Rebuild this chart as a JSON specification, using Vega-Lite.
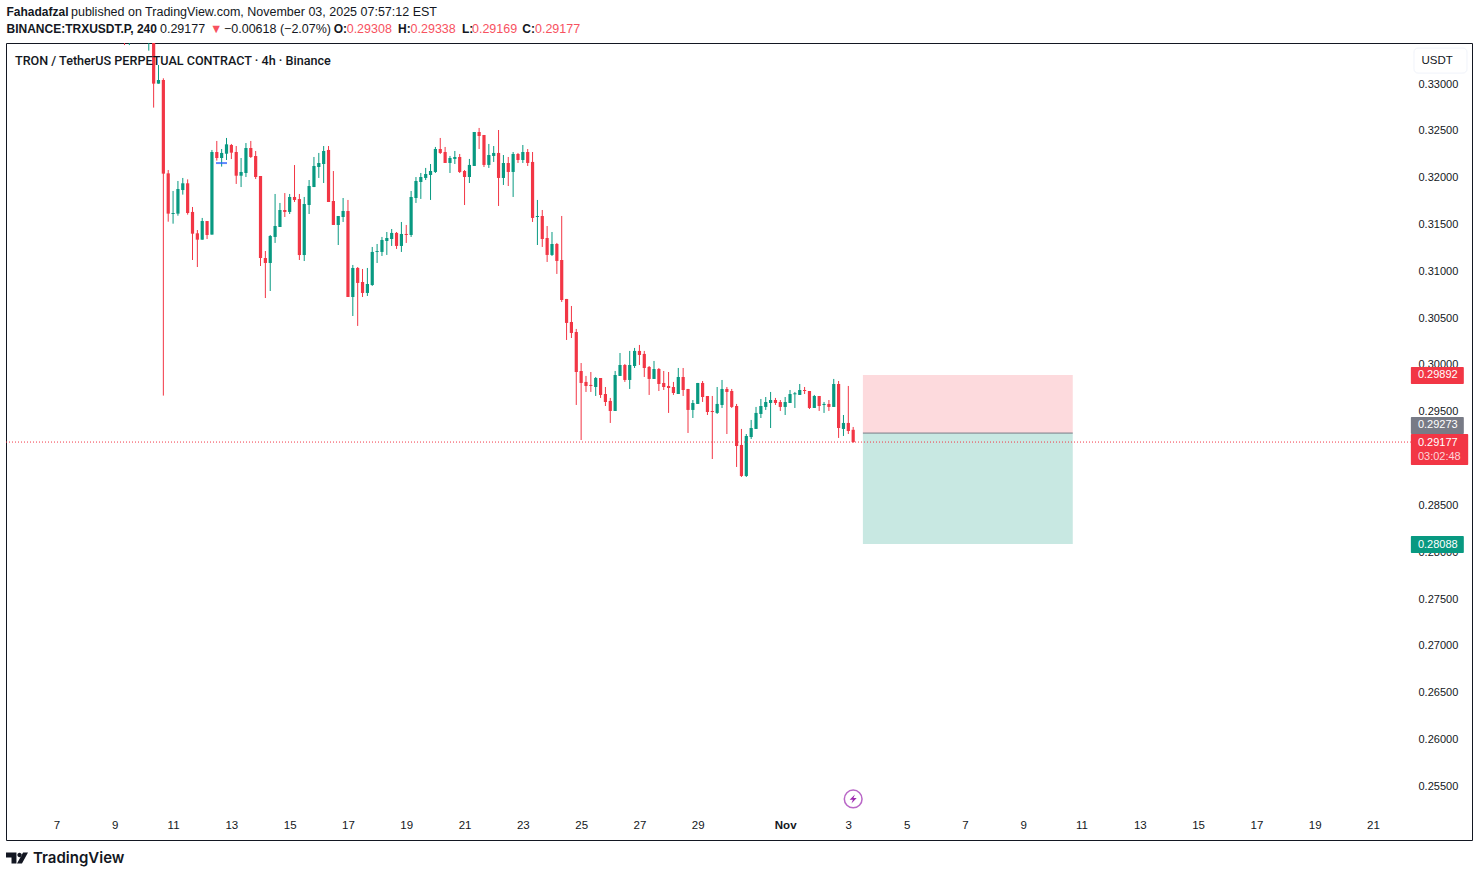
{
"$schema":"https://vega.github.io/schema/vega-lite/v6.json",
"width":1466,"height":797,"autosize":"none",
"padding":{"left":6,"top":43,"right":7,"bottom":37},
"background":"white",
"config":{"view":{"stroke":"#131722","strokeWidth":1},"font":"Liberation Sans"},
"datasets":{
"candles":[
{"t":"2025-10-09T08:00Z","o":0.33650,"h":0.33700,"l":0.33416,"c":0.33560},
{"t":"2025-10-09T12:00Z","o":0.33500,"h":0.33650,"l":0.33416,"c":0.33600},
{"t":"2025-10-10T04:00Z","o":0.33450,"h":0.33700,"l":0.33356,"c":0.33600},
{"t":"2025-10-10T08:00Z","o":0.33800,"h":0.33900,"l":0.32748,"c":0.33004},
{"t":"2025-10-10T12:00Z","o":0.33004,"h":0.33203,"l":0.33004,"c":0.33043},
{"t":"2025-10-10T16:00Z","o":0.33043,"h":0.33061,"l":0.29673,"c":0.32043},
{"t":"2025-10-10T20:00Z","o":0.32046,"h":0.32082,"l":0.31530,"c":0.31616},
{"t":"2025-10-11T00:00Z","o":0.31612,"h":0.31858,"l":0.31509,"c":0.31623},
{"t":"2025-10-11T04:00Z","o":0.31616,"h":0.31965,"l":0.31594,"c":0.31879},
{"t":"2025-10-11T08:00Z","o":0.31868,"h":0.31997,"l":0.31819,"c":0.31940},
{"t":"2025-10-11T12:00Z","o":0.31940,"h":0.31982,"l":0.31605,"c":0.31623},
{"t":"2025-10-11T16:00Z","o":0.31634,"h":0.31687,"l":0.31121,"c":0.31402},
{"t":"2025-10-11T20:00Z","o":0.31406,"h":0.31441,"l":0.31046,"c":0.31338},
{"t":"2025-10-12T00:00Z","o":0.31338,"h":0.31570,"l":0.31338,"c":0.31537},
{"t":"2025-10-12T04:00Z","o":0.31537,"h":0.31537,"l":0.31345,"c":0.31388},
{"t":"2025-10-12T08:00Z","o":0.31392,"h":0.32296,"l":0.31392,"c":0.32274},
{"t":"2025-10-12T12:00Z","o":0.32274,"h":0.32392,"l":0.32182,"c":0.32210},
{"t":"2025-10-12T16:00Z","o":0.32210,"h":0.32306,"l":0.32118,"c":0.32264},
{"t":"2025-10-12T20:00Z","o":0.32256,"h":0.32424,"l":0.32189,"c":0.32356},
{"t":"2025-10-13T00:00Z","o":0.32349,"h":0.32360,"l":0.32199,"c":0.32267},
{"t":"2025-10-13T04:00Z","o":0.32274,"h":0.32338,"l":0.31933,"c":0.32021},
{"t":"2025-10-13T08:00Z","o":0.32021,"h":0.32210,"l":0.31900,"c":0.32061},
{"t":"2025-10-13T12:00Z","o":0.32050,"h":0.32370,"l":0.32007,"c":0.32317},
{"t":"2025-10-13T16:00Z","o":0.32317,"h":0.32392,"l":0.32210,"c":0.32221},
{"t":"2025-10-13T20:00Z","o":0.32231,"h":0.32285,"l":0.31986,"c":0.32007},
{"t":"2025-10-14T00:00Z","o":0.32018,"h":0.32018,"l":0.31057,"c":0.31142},
{"t":"2025-10-14T04:00Z","o":0.31142,"h":0.31217,"l":0.30715,"c":0.31089},
{"t":"2025-10-14T08:00Z","o":0.31089,"h":0.31388,"l":0.30790,"c":0.31377},
{"t":"2025-10-14T12:00Z","o":0.31367,"h":0.31826,"l":0.31303,"c":0.31484},
{"t":"2025-10-14T16:00Z","o":0.31473,"h":0.31730,"l":0.31473,"c":0.31655},
{"t":"2025-10-14T20:00Z","o":0.31655,"h":0.31836,"l":0.31580,"c":0.31634},
{"t":"2025-10-15T00:00Z","o":0.31634,"h":0.31826,"l":0.31612,"c":0.31794},
{"t":"2025-10-15T04:00Z","o":0.31794,"h":0.32135,"l":0.31740,"c":0.31762},
{"t":"2025-10-15T08:00Z","o":0.31772,"h":0.31826,"l":0.31121,"c":0.31174},
{"t":"2025-10-15T12:00Z","o":0.31174,"h":0.31794,"l":0.31110,"c":0.31719},
{"t":"2025-10-15T16:00Z","o":0.31708,"h":0.31975,"l":0.31612,"c":0.31911},
{"t":"2025-10-15T20:00Z","o":0.31900,"h":0.32221,"l":0.31900,"c":0.32125},
{"t":"2025-10-16T00:00Z","o":0.32114,"h":0.32264,"l":0.31997,"c":0.32157},
{"t":"2025-10-16T04:00Z","o":0.32146,"h":0.32338,"l":0.31943,"c":0.32285},
{"t":"2025-10-16T08:00Z","o":0.32296,"h":0.32338,"l":0.31740,"c":0.31740},
{"t":"2025-10-16T12:00Z","o":0.31751,"h":0.32071,"l":0.31495,"c":0.31495},
{"t":"2025-10-16T16:00Z","o":0.31495,"h":0.31591,"l":0.31281,"c":0.31591},
{"t":"2025-10-16T20:00Z","o":0.31580,"h":0.31783,"l":0.31527,"c":0.31644},
{"t":"2025-10-17T00:00Z","o":0.31644,"h":0.31762,"l":0.30726,"c":0.30726},
{"t":"2025-10-17T04:00Z","o":0.30726,"h":0.31068,"l":0.30523,"c":0.31036},
{"t":"2025-10-17T08:00Z","o":0.31036,"h":0.31046,"l":0.30417,"c":0.30876},
{"t":"2025-10-17T12:00Z","o":0.30886,"h":0.31025,"l":0.30726,"c":0.30769},
{"t":"2025-10-17T16:00Z","o":0.30769,"h":0.31036,"l":0.30737,"c":0.30865},
{"t":"2025-10-17T20:00Z","o":0.30854,"h":0.31260,"l":0.30844,"c":0.31207},
{"t":"2025-10-18T00:00Z","o":0.31207,"h":0.31292,"l":0.31089,"c":0.31217},
{"t":"2025-10-18T04:00Z","o":0.31207,"h":0.31367,"l":0.31164,"c":0.31335},
{"t":"2025-10-18T08:00Z","o":0.31324,"h":0.31420,"l":0.31175,"c":0.31356},
{"t":"2025-10-18T12:00Z","o":0.31345,"h":0.31452,"l":0.31271,"c":0.31410},
{"t":"2025-10-18T16:00Z","o":0.31410,"h":0.31420,"l":0.31239,"c":0.31271},
{"t":"2025-10-18T20:00Z","o":0.31271,"h":0.31527,"l":0.31207,"c":0.31399},
{"t":"2025-10-19T00:00Z","o":0.31399,"h":0.31495,"l":0.31303,"c":0.31388},
{"t":"2025-10-19T04:00Z","o":0.31388,"h":0.31858,"l":0.31367,"c":0.31794},
{"t":"2025-10-19T08:00Z","o":0.31783,"h":0.32007,"l":0.31730,"c":0.31965},
{"t":"2025-10-19T12:00Z","o":0.31954,"h":0.32050,"l":0.31773,"c":0.32007},
{"t":"2025-10-19T16:00Z","o":0.31997,"h":0.32104,"l":0.31975,"c":0.32039},
{"t":"2025-10-19T20:00Z","o":0.32029,"h":0.32146,"l":0.31762,"c":0.32071},
{"t":"2025-10-20T00:00Z","o":0.32061,"h":0.32328,"l":0.32050,"c":0.32306},
{"t":"2025-10-20T04:00Z","o":0.32306,"h":0.32424,"l":0.32253,"c":0.32264},
{"t":"2025-10-20T08:00Z","o":0.32274,"h":0.32328,"l":0.32157,"c":0.32157},
{"t":"2025-10-20T12:00Z","o":0.32157,"h":0.32232,"l":0.32050,"c":0.32210},
{"t":"2025-10-20T16:00Z","o":0.32200,"h":0.32285,"l":0.32146,"c":0.32221},
{"t":"2025-10-20T20:00Z","o":0.32221,"h":0.32253,"l":0.32050,"c":0.32061},
{"t":"2025-10-21T00:00Z","o":0.32071,"h":0.32082,"l":0.31708,"c":0.32007},
{"t":"2025-10-21T04:00Z","o":0.32007,"h":0.32200,"l":0.31943,"c":0.32136},
{"t":"2025-10-21T08:00Z","o":0.32125,"h":0.32488,"l":0.32125,"c":0.32488},
{"t":"2025-10-21T12:00Z","o":0.32488,"h":0.32531,"l":0.32306,"c":0.32445},
{"t":"2025-10-21T16:00Z","o":0.32456,"h":0.32456,"l":0.32114,"c":0.32136},
{"t":"2025-10-21T20:00Z","o":0.32136,"h":0.32360,"l":0.32104,"c":0.32242},
{"t":"2025-10-22T00:00Z","o":0.32232,"h":0.32338,"l":0.32168,"c":0.32264},
{"t":"2025-10-22T04:00Z","o":0.32264,"h":0.32509,"l":0.31698,"c":0.31997},
{"t":"2025-10-22T08:00Z","o":0.31997,"h":0.32242,"l":0.31922,"c":0.32157},
{"t":"2025-10-22T12:00Z","o":0.32157,"h":0.32221,"l":0.31911,"c":0.32061},
{"t":"2025-10-22T16:00Z","o":0.32061,"h":0.32274,"l":0.31794,"c":0.32253},
{"t":"2025-10-22T20:00Z","o":0.32253,"h":0.32264,"l":0.32157,"c":0.32189},
{"t":"2025-10-23T00:00Z","o":0.32189,"h":0.32349,"l":0.32157,"c":0.32274},
{"t":"2025-10-23T04:00Z","o":0.32274,"h":0.32306,"l":0.32125,"c":0.32157},
{"t":"2025-10-23T08:00Z","o":0.32168,"h":0.32274,"l":0.31527,"c":0.31570},
{"t":"2025-10-23T12:00Z","o":0.31580,"h":0.31762,"l":0.31281,"c":0.31591},
{"t":"2025-10-23T16:00Z","o":0.31591,"h":0.31655,"l":0.31260,"c":0.31345},
{"t":"2025-10-23T20:00Z","o":0.31356,"h":0.31484,"l":0.31100,"c":0.31175},
{"t":"2025-10-24T00:00Z","o":0.31175,"h":0.31420,"l":0.31164,"c":0.31292},
{"t":"2025-10-24T04:00Z","o":0.31292,"h":0.31303,"l":0.30972,"c":0.31111},
{"t":"2025-10-24T08:00Z","o":0.31121,"h":0.31591,"l":0.30673,"c":0.30694},
{"t":"2025-10-24T12:00Z","o":0.30705,"h":0.30705,"l":0.30267,"c":0.30449},
{"t":"2025-10-24T16:00Z","o":0.30459,"h":0.30630,"l":0.30288,"c":0.30342},
{"t":"2025-10-24T20:00Z","o":0.30352,"h":0.30385,"l":0.29573,"c":0.29925},
{"t":"2025-10-25T00:00Z","o":0.29936,"h":0.30021,"l":0.29199,"c":0.29808},
{"t":"2025-10-25T04:00Z","o":0.29819,"h":0.29883,"l":0.29712,"c":0.29776},
{"t":"2025-10-25T08:00Z","o":0.29787,"h":0.29925,"l":0.29712,"c":0.29776},
{"t":"2025-10-25T12:00Z","o":0.29765,"h":0.29872,"l":0.29669,"c":0.29861},
{"t":"2025-10-25T16:00Z","o":0.29861,"h":0.29861,"l":0.29648,"c":0.29680},
{"t":"2025-10-25T20:00Z","o":0.29690,"h":0.29765,"l":0.29562,"c":0.29605},
{"t":"2025-10-26T00:00Z","o":0.29616,"h":0.29648,"l":0.29381,"c":0.29509},
{"t":"2025-10-26T04:00Z","o":0.29509,"h":0.29936,"l":0.29509,"c":0.29893},
{"t":"2025-10-26T08:00Z","o":0.29883,"h":0.30128,"l":0.29883,"c":0.30000},
{"t":"2025-10-26T12:00Z","o":0.30000,"h":0.30011,"l":0.29819,"c":0.29840},
{"t":"2025-10-26T16:00Z","o":0.29840,"h":0.30150,"l":0.29744,"c":0.30000},
{"t":"2025-10-26T20:00Z","o":0.29989,"h":0.30182,"l":0.29968,"c":0.30150},
{"t":"2025-10-27T00:00Z","o":0.30150,"h":0.30214,"l":0.30000,"c":0.30107},
{"t":"2025-10-27T04:00Z","o":0.30118,"h":0.30150,"l":0.29872,"c":0.29968},
{"t":"2025-10-27T08:00Z","o":0.29979,"h":0.29989,"l":0.29680,"c":0.29851},
{"t":"2025-10-27T12:00Z","o":0.29851,"h":0.30043,"l":0.29851,"c":0.29957},
{"t":"2025-10-27T16:00Z","o":0.29957,"h":0.29968,"l":0.29722,"c":0.29797},
{"t":"2025-10-27T20:00Z","o":0.29808,"h":0.29936,"l":0.29733,"c":0.29765},
{"t":"2025-10-28T00:00Z","o":0.29776,"h":0.29925,"l":0.29488,"c":0.29754},
{"t":"2025-10-28T04:00Z","o":0.29765,"h":0.29819,"l":0.29680,"c":0.29701},
{"t":"2025-10-28T08:00Z","o":0.29690,"h":0.29968,"l":0.29690,"c":0.29872},
{"t":"2025-10-28T12:00Z","o":0.29872,"h":0.29968,"l":0.29669,"c":0.29733},
{"t":"2025-10-28T16:00Z","o":0.29744,"h":0.29744,"l":0.29274,"c":0.29520},
{"t":"2025-10-28T20:00Z","o":0.29520,"h":0.29626,"l":0.29434,"c":0.29594},
{"t":"2025-10-29T00:00Z","o":0.29584,"h":0.29808,"l":0.29584,"c":0.29808},
{"t":"2025-10-29T04:00Z","o":0.29808,"h":0.29829,"l":0.29605,"c":0.29658},
{"t":"2025-10-29T08:00Z","o":0.29669,"h":0.29669,"l":0.29466,"c":0.29498},
{"t":"2025-10-29T12:00Z","o":0.29509,"h":0.29669,"l":0.28996,"c":0.29498},
{"t":"2025-10-29T16:00Z","o":0.29488,"h":0.29765,"l":0.29477,"c":0.29584},
{"t":"2025-10-29T20:00Z","o":0.29573,"h":0.29840,"l":0.29541,"c":0.29744},
{"t":"2025-10-30T00:00Z","o":0.29744,"h":0.29765,"l":0.29263,"c":0.29712},
{"t":"2025-10-30T04:00Z","o":0.29722,"h":0.29744,"l":0.29541,"c":0.29552},
{"t":"2025-10-30T08:00Z","o":0.29562,"h":0.29584,"l":0.28911,"c":0.29135},
{"t":"2025-10-30T12:00Z","o":0.29146,"h":0.29317,"l":0.28804,"c":0.28815},
{"t":"2025-10-30T16:00Z","o":0.28815,"h":0.29263,"l":0.28804,"c":0.29242},
{"t":"2025-10-30T20:00Z","o":0.29231,"h":0.29413,"l":0.29210,"c":0.29327},
{"t":"2025-10-31T00:00Z","o":0.29317,"h":0.29552,"l":0.29317,"c":0.29488},
{"t":"2025-10-31T04:00Z","o":0.29477,"h":0.29637,"l":0.29434,"c":0.29562},
{"t":"2025-10-31T08:00Z","o":0.29552,"h":0.29658,"l":0.29520,"c":0.29605},
{"t":"2025-10-31T12:00Z","o":0.29594,"h":0.29712,"l":0.29327,"c":0.29626},
{"t":"2025-10-31T16:00Z","o":0.29626,"h":0.29648,"l":0.29573,"c":0.29594},
{"t":"2025-10-31T20:00Z","o":0.29605,"h":0.29626,"l":0.29509,"c":0.29552},
{"t":"2025-11-01T00:00Z","o":0.29552,"h":0.29658,"l":0.29466,"c":0.29605},
{"t":"2025-11-01T04:00Z","o":0.29594,"h":0.29733,"l":0.29594,"c":0.29690},
{"t":"2025-11-01T08:00Z","o":0.29687,"h":0.29712,"l":0.29541,"c":0.29698},
{"t":"2025-11-01T12:00Z","o":0.29680,"h":0.29797,"l":0.29680,"c":0.29733},
{"t":"2025-11-01T16:00Z","o":0.29733,"h":0.29765,"l":0.29690,"c":0.29722},
{"t":"2025-11-01T20:00Z","o":0.29722,"h":0.29722,"l":0.29530,"c":0.29541},
{"t":"2025-11-02T00:00Z","o":0.29541,"h":0.29680,"l":0.29541,"c":0.29669},
{"t":"2025-11-02T04:00Z","o":0.29669,"h":0.29669,"l":0.29509,"c":0.29562},
{"t":"2025-11-02T08:00Z","o":0.29573,"h":0.29605,"l":0.29488,"c":0.29584},
{"t":"2025-11-02T12:00Z","o":0.29584,"h":0.29626,"l":0.29509,"c":0.29552},
{"t":"2025-11-02T16:00Z","o":0.29552,"h":0.29851,"l":0.29552,"c":0.29797},
{"t":"2025-11-02T20:00Z","o":0.29797,"h":0.29829,"l":0.29221,"c":0.29327},
{"t":"2025-11-03T00:00Z","o":0.29317,"h":0.29466,"l":0.29242,"c":0.29381},
{"t":"2025-11-03T04:00Z","o":0.29381,"h":0.29776,"l":0.29263,"c":0.29295},
{"t":"2025-11-03T08:00Z","o":0.29308,"h":0.29338,"l":0.29169,"c":0.29177}
],
"zones":[
{"kind":"risk","t":"2025-11-03T16:00Z","t2":"2025-11-10T20:48Z","p":0.29892,"p2":0.29273},
{"kind":"reward","t":"2025-11-03T16:00Z","t2":"2025-11-10T20:48Z","p":0.29273,"p2":0.28088}
],
"tags":[
{"kind":"stop","t":"2025-11-22T11:12Z","t2":"2025-11-24T06:48Z","p":0.29978,"p2":0.29797},
{"kind":"entry","t":"2025-11-22T11:12Z","t2":"2025-11-24T06:48Z","p":0.29445,"p2":0.29263},
{"kind":"last","t":"2025-11-22T11:12Z","t2":"2025-11-24T10:24Z","p":0.29263,"p2":0.28932},
{"kind":"target","t":"2025-11-22T11:12Z","t2":"2025-11-24T06:48Z","p":0.28174,"p2":0.27993}
],
"tagLabels":[
{"label":"0.29892","t":"2025-11-22T17:00Z","p":0.29892},
{"label":"0.29273","t":"2025-11-22T17:00Z","p":0.29354},
{"label":"0.29177","t":"2025-11-22T17:00Z","p":0.29167},
{"label":"0.28088","t":"2025-11-22T17:00Z","p":0.28083}
],
"headBold":[
{"label":"Fahadafzal","t":"2025-10-05T06:50Z","p":0.33769},
{"label":"BINANCE:TRXUSDT.P, 240","t":"2025-10-05T06:50Z","p":0.33587},
{"label":"O:","t":"2025-10-16T12:15Z","p":0.33587},
{"label":"H:","t":"2025-10-18T17:12Z","p":0.33587},
{"label":"L:","t":"2025-10-20T21:54Z","p":0.33587},
{"label":"C:","t":"2025-10-22T23:36Z","p":0.33587}
],
"headPlain":[
{"label":"published on TradingView.com, November 03, 2025 07:57:12 EST","t":"2025-10-07T11:56Z","p":0.33769},
{"label":"0.29177","t":"2025-10-10T13:13Z","p":0.33587},
{"label":"−0.00618 (−2.07%)","t":"2025-10-12T17:55Z","p":0.33587}
],
"headRed":[
{"label":"▼","t":"2025-10-12T06:24Z","p":0.33587},
{"label":"0.29308","t":"2025-10-16T22:57Z","p":0.33587},
{"label":"0.29338","t":"2025-10-19T03:34Z","p":0.33587},
{"label":"0.29169","t":"2025-10-21T06:06Z","p":0.33587},
{"label":"0.29177","t":"2025-10-23T10:00Z","p":0.33587}
]
},
"encoding":{
"x":{"field":"t","type":"temporal","title":null,
"scale":{"type":"utc","nice":false,"padding":0,"domain":["2025-10-05T06:26Z","2025-11-24T13:32Z"]},
"axis":{"orient":"bottom","offset":-21,"grid":false,"domain":false,"ticks":false,"labelPadding":0,"title":null,
"labelColor":"#131722","labelFontSize":11.5,"labelFlush":false,"labelOverlap":false,
"labelFontWeight":{"condition":{"test":"utcdate(datum.value)==1","value":"bold"},"value":"normal"},
"labelExpr":"utcdate(datum.value)==1?'Nov':utcFormat(datum.value,'%-d')",
"values":["2025-10-07T00:00Z","2025-10-09T00:00Z","2025-10-11T00:00Z","2025-10-13T00:00Z","2025-10-15T00:00Z","2025-10-17T00:00Z","2025-10-19T00:00Z","2025-10-21T00:00Z","2025-10-23T00:00Z","2025-10-25T00:00Z","2025-10-27T00:00Z","2025-10-29T00:00Z","2025-11-01T00:00Z","2025-11-03T04:00Z","2025-11-05T04:00Z","2025-11-07T04:00Z","2025-11-09T04:00Z","2025-11-11T04:00Z","2025-11-13T04:00Z","2025-11-15T04:00Z","2025-11-17T04:00Z","2025-11-19T04:00Z","2025-11-21T04:00Z"]}},
"y":{"field":"p","type":"quantitative","title":null,
"scale":{"domain":[0.24928,0.33438],"nice":false,"zero":false},
"axis":{"orient":"right","offset":-54,"grid":false,"domain":false,"ticks":false,"labelPadding":0,"title":null,
"labelColor":"#131722","labelFontSize":11,"labelFlush":false,"labelOverlap":false,"format":".5f",
"values":[0.255,0.26,0.265,0.27,0.275,0.28,0.285,0.295,0.3,0.305,0.31,0.315,0.32,0.325,0.33]}}
},
"layer":[
{"data":{"name":"zones"},"mark":{"type":"rect"},
"encoding":{"x2":{"field":"t2"},"y2":{"field":"p2"},
"color":{"field":"kind","type":"nominal","legend":null,"scale":{"domain":["risk","reward","stop","entry","last","target"],"range":["#fddadd","#c8e8e2","#f23645","#787b86","#f23645","#089981"]}}}},
{"data":{"values":[{"t":"2025-11-03T16:00Z","t2":"2025-11-10T20:48Z","p":0.29273}]},
"mark":{"type":"rule","color":"#787b86","strokeWidth":1},
"encoding":{"x2":{"field":"t2"}}},
{"data":{"name":"candles"},"mark":{"type":"rule","clip":true,"strokeWidth":1},
"encoding":{"y":{"field":"l","type":"quantitative","title":null,
"axis":{"orient":"right","offset":-54,"grid":false,"domain":false,"ticks":false,"labelPadding":0,"title":null,
"labelColor":"#131722","labelFontSize":11,"labelFlush":false,"labelOverlap":false,"format":".5f",
"values":[0.255,0.26,0.265,0.27,0.275,0.28,0.285,0.295,0.3,0.305,0.31,0.315,0.32,0.325,0.33]}},"y2":{"field":"h"},
"color":{"condition":{"test":"datum.c>=datum.o","value":"#089981"},"value":"#f23645"}}},
{"data":{"name":"candles"},"mark":{"type":"bar","clip":true,"width":3.2,"orient":"vertical"},
"encoding":{"y":{"field":"o","type":"quantitative","title":null,
"axis":{"orient":"right","offset":-54,"grid":false,"domain":false,"ticks":false,"labelPadding":0,"title":null,
"labelColor":"#131722","labelFontSize":11,"labelFlush":false,"labelOverlap":false,"format":".5f",
"values":[0.255,0.26,0.265,0.27,0.275,0.28,0.285,0.295,0.3,0.305,0.31,0.315,0.32,0.325,0.33]}},"y2":{"field":"c"},
"color":{"condition":{"test":"datum.c>=datum.o","value":"#089981"},"value":"#f23645"}}},
{"data":{"values":[{"t":"2025-10-12T11:20Z","t2":"2025-10-12T20:24Z","p":0.32156}]},
"mark":{"type":"rule","color":"#2962ff","strokeWidth":2,"opacity":0.75},
"encoding":{"x2":{"field":"t2"}}},
{"data":{"values":[{"t":"2025-10-05T06:26Z","t2":"2025-11-22T11:12Z","p":0.29177}]},
"mark":{"type":"rule","color":"#f23645","strokeWidth":1,"strokeDash":[1,2]},
"encoding":{"x2":{"field":"t2"}}},
{"data":{"name":"tags"},"mark":{"type":"rect","cornerRadius":1},
"encoding":{"x2":{"field":"t2"},"y2":{"field":"p2"},
"color":{"field":"kind","type":"nominal","legend":null}}},
{"data":{"name":"tagLabels"},"mark":{"type":"text","align":"left","baseline":"middle","fontSize":11,"color":"#ffffff"},
"encoding":{"text":{"field":"label"}}},
{"data":{"values":[{"label":"03:02:48","t":"2025-11-22T17:00Z","p":0.29018}]},
"mark":{"type":"text","align":"left","baseline":"middle","fontSize":11,"color":"#fcd5d9"},
"encoding":{"text":{"field":"label"}}},
{"data":{"values":[{"t":"2025-11-22T13:46Z","t2":"2025-11-24T09:24Z","p":0.33384,"p2":0.33117}]},
"mark":{"type":"rect","fill":"#ffffff","stroke":"#f0f3fa","strokeWidth":1,"cornerRadius":4},
"encoding":{"x2":{"field":"t2"},"y2":{"field":"p2"}}},
{"data":{"values":[{"label":"USDT","t":"2025-11-23T08:48Z","p":0.33245}]},
"mark":{"type":"text","align":"center","baseline":"middle","fontSize":11.5,"color":"#131722"},
"encoding":{"text":{"field":"label"}}},
{"data":{"values":[{"label":"TRON / TetherUS PERPETUAL CONTRACT · 4h · Binance","t":"2025-10-05T13:50Z","p":0.33251}]},
"mark":{"type":"text","align":"left","baseline":"middle","fontSize":12.6,"fontWeight":500,"font":"Roboto","color":"#131722"},
"encoding":{"text":{"field":"label"}}},
{"data":{"name":"headBold"},"mark":{"type":"text","align":"left","baseline":"middle","fontSize":12,"fontWeight":"bold","color":"#131722"},
"encoding":{"text":{"field":"label"}}},
{"data":{"name":"headPlain"},"mark":{"type":"text","align":"left","baseline":"middle","fontSize":12.5,"color":"#131722"},
"encoding":{"text":{"field":"label"}}},
{"data":{"name":"headRed"},"mark":{"type":"text","align":"left","baseline":"middle","fontSize":12.5,"color":"#f7525f"},
"encoding":{"text":{"field":"label"}}},
{"data":{"values":[{"t":"2025-11-03T08:00Z","p":0.25366}]},
"mark":{"type":"point","shape":"circle","size":314,"filled":false,"stroke":"#9c27b0","strokeWidth":1.5}},
{"data":{"values":[{"t":"2025-11-03T08:00Z","p":0.25366}]},
"mark":{"type":"point","shape":"M0.35,-0.9L-0.7,0.15H-0.05L-0.35,0.9L0.7,-0.2H0.05Z","size":100,"filled":true,"fill":"#9c27b0","strokeWidth":0,"opacity":1}},
{"data":{"values":[{"t":"2025-10-05T15:30Z","p":0.24736}]},
"mark":{"type":"point","shape":"M-1,-0.5H-0.05V0.5H-0.5V-0.05H-1ZM0.03,-0.27a0.2,0.2 0 1,0 0.4,0a0.2,0.2 0 1,0 -0.4,0ZM0.55,-0.5H1L0.45,0.5H0Z","size":484,"filled":true,"fill":"#131722","strokeWidth":0,"opacity":1}},
{"data":{"values":[{"label":"TradingView","t":"2025-10-06T04:39Z","p":0.24736}]},
"mark":{"type":"text","align":"left","baseline":"middle","fontSize":15,"fontWeight":600,"font":"Inter","color":"#131722"},
"encoding":{"text":{"field":"label"}}}
]
}
